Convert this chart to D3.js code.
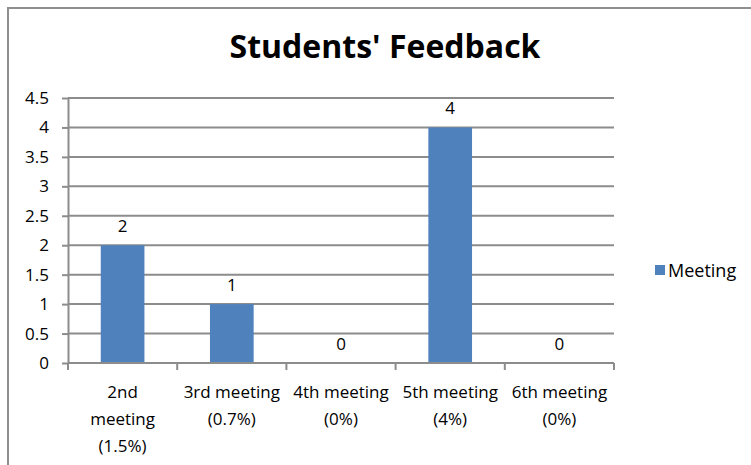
<!DOCTYPE html>
<html>
<head>
<meta charset="utf-8">
<script src="https://cdn.jsdelivr.net/npm/d3@7"></script>
<style>
  html, body { margin: 0; padding: 0; background: #fff; }
  svg { display: block; font-family: "Open Sans", "Liberation Sans", sans-serif; }
</style>
</head>
<body>
<svg id="chart" width="751" height="465"></svg>
<script>
// Category labels (multi-line) and values
const categories = [
  ["2nd", "meeting", "(1.5%)"],
  ["3rd meeting", "(0.7%)"],
  ["4th meeting", "(0%)"],
  ["5th meeting", "(4%)"],
  ["6th meeting", "(0%)"]
];
const values = [2, 1, 0, 4, 0];
const yTicks = [0, 0.5, 1, 1.5, 2, 2.5, 3, 3.5, 4, 4.5];
const seriesName = "Meeting";
const title = "Students' Feedback";

const svg = d3.select("#chart");
const W = 751, H = 465;
const margin = { left: 68, right: 137, top: 98, bottom: 102 };
const grid = "#8c8c8c";
const barColor = "#4f81bd";
const fs = 17;

// Outer chart frame
svg.append("path")
  .attr("d", `M8,${H + 5} L8,8 L${W + 5},8`)
  .attr("fill", "none").attr("stroke", "#8e8e8e").attr("stroke-width", 2);

svg.append("text")
  .attr("x", 385).attr("y", 58)
  .attr("text-anchor", "middle")
  .attr("font-size", 32).attr("font-weight", "bold")
  .attr("fill", "#000")
  .text(title);

const x = d3.scaleBand()
  .domain(d3.range(categories.length))
  .range([margin.left, W - margin.right])
  .paddingInner(0.6).paddingOuter(0.3);
const xOuter = d3.scaleBand()
  .domain(d3.range(categories.length))
  .range([margin.left, W - margin.right]);
const y = d3.scaleLinear().domain([0, 4.5]).range([H - margin.bottom, margin.top]);

// Horizontal gridlines
svg.append("g").selectAll("line").data(yTicks.filter(d => d > 0)).join("line")
  .attr("x1", margin.left).attr("x2", W - margin.right)
  .attr("y1", d => y(d)).attr("y2", d => y(d))
  .attr("stroke", grid).attr("stroke-width", 2);

// Y axis
const yAxis = svg.append("g")
  .attr("transform", `translate(${margin.left},0)`)
  .call(d3.axisLeft(y).tickValues(yTicks).tickSize(6).tickSizeOuter(0).tickFormat(d3.format("")));
yAxis.select(".domain").attr("stroke", grid).attr("stroke-width", 2);
yAxis.selectAll(".tick line").attr("stroke", grid).attr("stroke-width", 2);
yAxis.selectAll(".tick text")
  .attr("x", -19).attr("font-size", fs).attr("font-family", "Open Sans, sans-serif").attr("fill", "#000");

// Bars
svg.append("g").selectAll("rect").data(values).join("rect")
  .attr("x", (d, i) => x(i))
  .attr("y", d => y(d))
  .attr("width", x.bandwidth())
  .attr("height", d => y(0) - y(d))
  .attr("fill", barColor);

// X axis with category boundary ticks
const x0 = y(0);
svg.append("line")
  .attr("x1", margin.left).attr("x2", W - margin.right)
  .attr("y1", x0).attr("y2", x0)
  .attr("stroke", grid).attr("stroke-width", 2);
const bounds = d3.range(categories.length + 1).map(i =>
  i < categories.length ? xOuter(i) : xOuter(i - 1) + xOuter.bandwidth());
svg.append("g").selectAll("line").data(bounds).join("line")
  .attr("x1", d => d).attr("x2", d => d)
  .attr("y1", x0).attr("y2", x0 + 7)
  .attr("stroke", grid).attr("stroke-width", 2);

// Category labels
const lab = svg.append("g").selectAll("text").data(categories).join("text")
  .attr("text-anchor", "middle")
  .attr("font-size", fs).attr("fill", "#000");
lab.each(function(lines, i) {
  const t = d3.select(this);
  lines.forEach((ln, k) => {
    t.append("tspan")
      .attr("x", xOuter(i) + xOuter.bandwidth() / 2)
      .attr("y", 398 + k * 27)
      .text(ln);
  });
});

// Value labels
svg.append("g").selectAll("text").data(values).join("text")
  .attr("x", (d, i) => x(i) + x.bandwidth() / 2)
  .attr("y", d => y(d) - 13)
  .attr("text-anchor", "middle")
  .attr("font-size", fs).attr("fill", "#000")
  .text(d => d);

// Legend
const lg = svg.append("g").attr("transform", "translate(655,265)");
lg.append("rect").attr("width", 10).attr("height", 10).attr("fill", barColor);
lg.append("text").attr("x", 13).attr("y", 12)
  .attr("font-size", 18).attr("fill", "#000").text(seriesName);
</script>
</body>
</html>
